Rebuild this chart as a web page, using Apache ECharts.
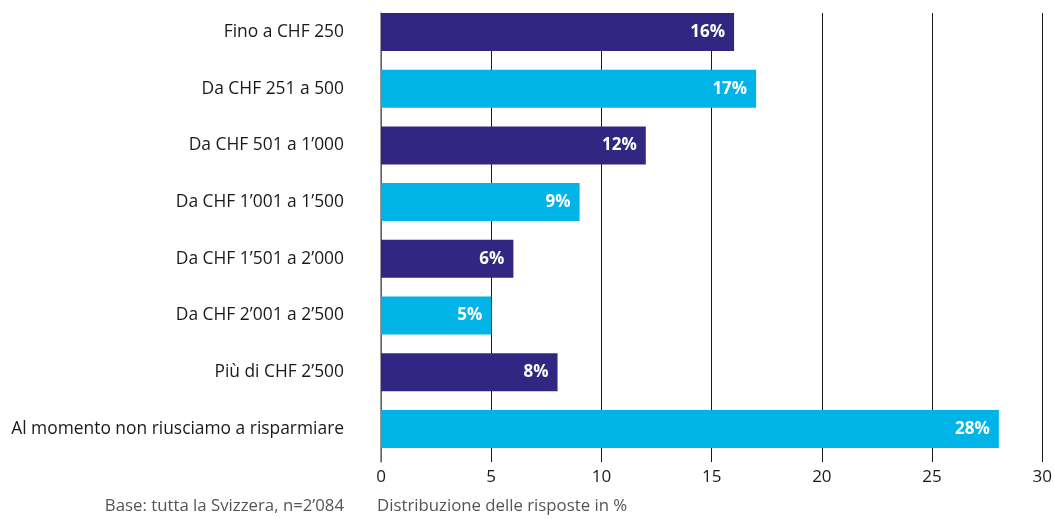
<!DOCTYPE html>
<html>
<head>
<meta charset="utf-8">
<script src="https://cdn.jsdelivr.net/npm/echarts@6/dist/echarts.min.js"></script>
<style>
  html, body { margin: 0; padding: 0; background: #fff; }
  #chart { width: 1055px; height: 519px; }
</style>
</head>
<body>
<div id="chart"></div>
<script>
// categorie dall'alto in basso
var categories = [
  'Fino a CHF 250',
  'Da CHF 251 a 500',
  'Da CHF 501 a 1’000',
  'Da CHF 1’001 a 1’500',
  'Da CHF 1’501 a 2’000',
  'Da CHF 2’001 a 2’500',
  'Più di CHF 2’500',
  'Al momento non riusciamo a risparmiare'
];
var values = [16, 17, 12, 9, 6, 5, 8, 28];
var xTicks = [0, 5, 10, 15, 20, 25, 30];
var footLeft = 'Base: tutta la Svizzera, n=2’084';
var footRight = 'Distribuzione delle risposte in %';

var dark = '#312782';
var light = '#00b4e8';
var font = '"Open Sans", "Noto Sans", sans-serif';

var chart = echarts.init(document.getElementById('chart'));

chart.setOption({
  animation: false,
  textStyle: { fontFamily: font },
  grid: [
    // griglia per le linee verticali e le etichette dell'asse
    { left: 381, right: 12, top: 13, height: 449 },
    // griglia per le barre
    { left: 381, right: 12, top: 3.6, height: 453.7 }
  ],
  xAxis: [{
    gridIndex: 0,
    type: 'value',
    min: xTicks[0],
    max: xTicks[xTicks.length - 1],
    interval: 5,
    axisLine: { show: false },
    axisTick: { show: false },
    axisLabel: { color: '#1a1a1a', fontSize: 17, margin: 7 },
    splitLine: {
      show: true,
      lineStyle: { color: '#1a1a1a', width: 1 }
    }
  }, {
    gridIndex: 1,
    type: 'value',
    min: 0,
    max: 30,
    show: false
  }],
  yAxis: [{
    gridIndex: 0,
    type: 'category',
    data: [''],
    axisLine: { show: true, lineStyle: { color: '#777', width: 1.5 } },
    axisTick: { show: false },
    axisLabel: { show: false }
  }, {
    gridIndex: 1,
    type: 'category',
    inverse: true,
    data: categories,
    axisLine: { show: false },
    axisTick: { show: false },
    axisLabel: { color: '#1a1a1a', fontSize: 17.4, margin: 37 }
  }],
  series: [{
    type: 'bar',
    xAxisIndex: 1,
    yAxisIndex: 1,
    barWidth: 38,
    data: values.map(function(v, i) {
      return { value: v, itemStyle: { color: i % 2 === 0 ? dark : light } };
    }),
    label: {
      show: true,
      position: 'insideRight',
      distance: 9,
      color: '#fff',
      fontWeight: 'bold',
      fontSize: 17,
      formatter: '{c}%'
    }
  }],
  graphic: [{
    type: 'text',
    right: 1055 - 344,
    top: 498,
    style: { text: footLeft, fill: '#555', font: '16.8px ' + font, textAlign: 'right' }
  }, {
    type: 'text',
    left: 377,
    top: 498,
    style: { text: footRight, fill: '#555', font: '16.8px ' + font }
  }]
});
</script>
</body>
</html>
